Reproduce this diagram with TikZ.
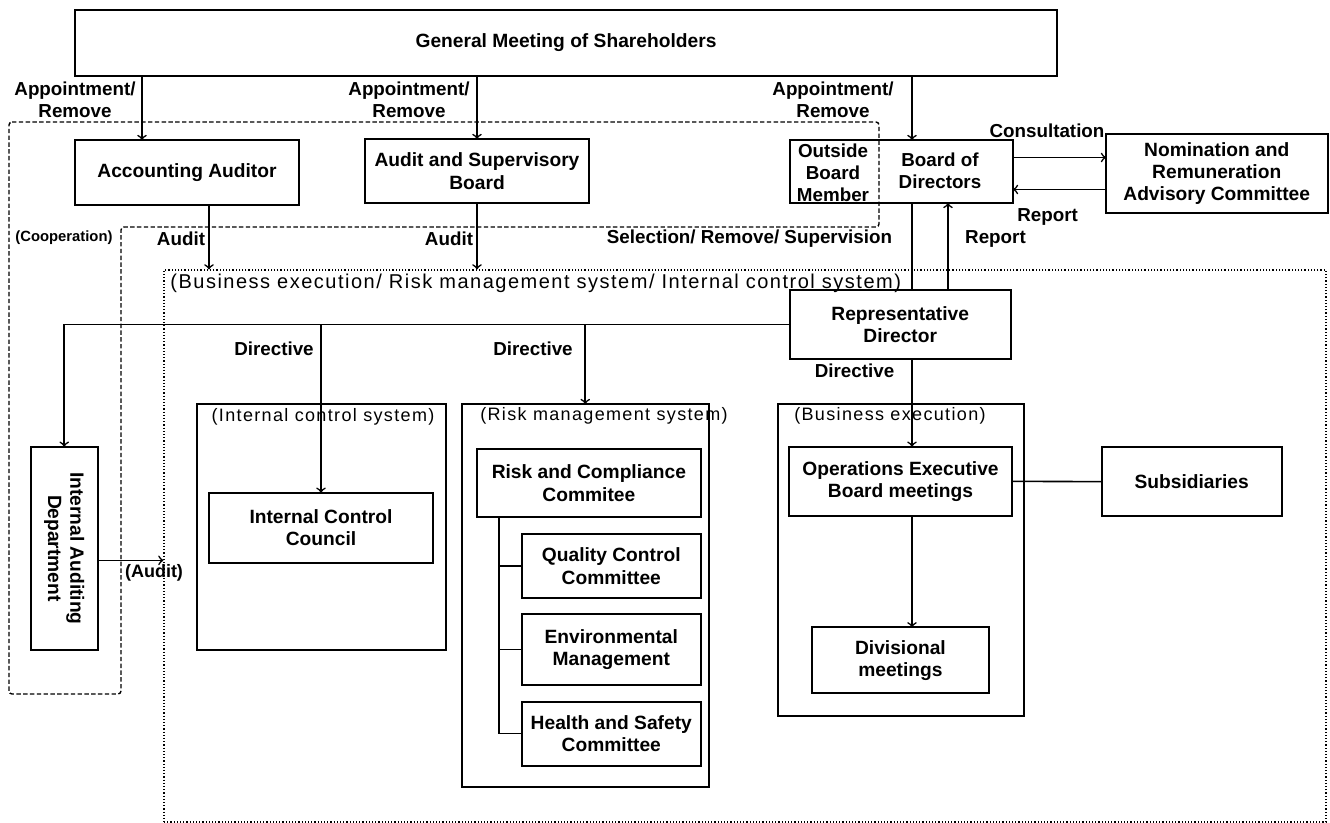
\documentclass[tikz,border=0pt]{standalone}
\usepackage{fontspec}
\setmainfont{Liberation Sans}
\newfontfamily\spacedfont[LetterSpace=7.5]{Liberation Sans}
\usetikzlibrary{positioning}

\begin{document}
\begin{tikzpicture}[
		x=0.5pt, y=-0.5pt,
		box/.style = {
			draw, rectangle, line width=1pt,
			inner sep=0pt, outer sep=0pt, align=center,
			font=\bfseries\fontsize{9.6}{11.2}\selectfont
		},
		lbl/.style = {inner sep=0pt, align=center, font=\bfseries\fontsize{9.4}{11}\selectfont},
		sys/.style = {inner sep=0pt, font=\spacedfont\fontsize{9}{11}\selectfont},
		link/.style = {line width=0.8pt}
		]
		\useasboundingbox (0,0) rectangle (1330,823);
		% frames
		\node [draw, densely dotted, line width=0.6pt, inner sep=0pt, minimum width=581pt, minimum height=276pt] (biz) at (745,546) {};
		\draw[dash pattern=on 2.2pt off 1.2pt, line width=0.7pt, rounded corners=1.5pt]
			(9,122) -- (879,122) -- (879,227) -- (121,227) -- (121,694) -- (9,694) -- cycle;

		% top level
		\node [box, minimum width=491pt, minimum height=33pt] (gm) at (566,43) {General Meeting of Shareholders};
		\node [box, minimum width=112pt, minimum height=32.5pt] (acc) at (187,172.5) {Accounting Auditor};
		\node [box, minimum width=112pt, minimum height=32pt] (asb) at (477,171) {Audit and Supervisory\\Board};
		\node [box, minimum width=111.75pt, minimum height=31.5pt] (bod) at (901.25,171.5) {};
		\node [lbl] (bodout) at (833,172.5) {Outside\\Board\\Member};
		\node [lbl] (bodtxt) at (940,171) {Board of\\Directors};
		\node [box, minimum width=110.75pt, minimum height=39.5pt] (nom) at (1216.75,173.5) {Nomination and\\Remuneration\\Advisory Committee};
		\node [box, minimum width=110.75pt, minimum height=34.5pt] (rep) at (900.25,324.5) {Representative\\Director};

		% systems
		\node [box, minimum width=124.5pt, minimum height=123pt] (icsys) at (321.2,527) {};
		\node [box, minimum width=123.55pt, minimum height=191.5pt] (rmsys) at (585.25,595.5) {};
		\node [box, minimum width=123pt, minimum height=156.25pt] (besys) at (901,560.25) {};
		\node [sys] (icsysttl) at (323,417) {(Internal control system)};
		\node [sys] (rmsysttl) at (604,416) {(Risk management system)};
		\node [sys] (besysttl) at (890,416) {(Business execution)};
		\node [sys, font=\spacedfont\fontsize{10}{12}\selectfont, anchor=west] (bizttl) at (170,283) {(Business execution/ Risk management system/ Internal control system)};

		\node [box, rotate=-90, minimum width=101.65pt, minimum height=33.5pt] (iad) at (64.2,548.35) {Internal Auditing\\Department};
		\node [box, minimum width=112pt, minimum height=35pt] (icc) at (321,527.7) {Internal Control\\Council};
		\node [box, minimum width=112pt, minimum height=34.15pt] (rcc) at (588.85,483.15) {Risk and Compliance\\Commitee};
		\node [box, minimum width=89.55pt, minimum height=31.7pt, below=8.5pt of rcc.south east, anchor=north east] (qcc) {Quality Control\\Committee};
		\node [box, minimum width=89.55pt, minimum height=35.35pt, below=8.3pt of qcc] (env) {Environmental\\Management};
		\node [box, minimum width=89.55pt, minimum height=32pt, below=8.3pt of env] (hsc) {Health and Safety\\Committee};
		\node [box, minimum width=111.5pt, minimum height=34.65pt] (oeb) at (900.5,481.35) {Operations Executive\\Board meetings};
		\node [box, minimum width=88.95pt, minimum height=33pt] (div) at (900.45,660.3) {Divisional\\meetings};
		\node [box, minimum width=90pt, minimum height=34.35pt] (sub) at (1191.7,481.65) {Subsidiaries};

		% connectors
		\coordinate (spine) at (912,0);
		\coordinate (rptx) at (948,0);
		\coordinate (accin) at ([xshift=-22.5pt]acc.north);
		\coordinate (accout) at ([xshift=11pt]acc.south);
		\coordinate (consultout) at ([yshift=7pt]bod.east);
		\coordinate (reportin) at ([yshift=-9pt]bod.east);
		\coordinate (iadout) at ([yshift=-6pt]iad.north);
		\coordinate (trunk) at ([xshift=-44.8pt]rcc.south);
		\draw[link,->] (accin |- gm.south) -- (accin);
		\draw[link,->] (gm.south -| asb.north) -- (asb.north);
		\draw[link,->] (gm.south -| spine) -- (bod.north -| spine);
		\draw[link,->] (consultout) -- (consultout -| nom.west);
		\draw[link,->] (reportin -| nom.west) -- (reportin);
		\draw[link] (bod.south -| spine) -- (rep.north -| spine);
		\draw[link,->] (rep.north -| rptx) -- (bod.south -| rptx);
		\draw[link,->] (accout) -- (accout |- biz.north);
		\draw[link,->] (asb.south) -- (asb.south |- biz.north);
		\draw[link,->] (rep.west) -| (iad.west);
		\draw[link,->] (rep.west -| icc.north) -- (icc.north);
		\draw[link,->] (rep.west -| rmsys.north) -- (rmsys.north);
		\draw[link,->] (iadout) -- (iadout -| biz.west);
		\draw[link,->] (rep.south -| spine) -- (oeb.north -| spine);
		\draw[link,->] (oeb.south -| spine) -- (div.north -| spine);
		\draw[link] (oeb.east) -- (sub.west);
		\draw[link] (trunk) |- (hsc.west);
		\foreach \n in {qcc,env}
			\draw[link] (trunk |- \n.west) -- (\n.west);

		% labels
		\node [lbl] (appacc) at (75,100) {Appointment/\\Remove};
		\node [lbl] (appasb) at (409,100) {Appointment/\\Remove};
		\node [lbl] (appbod) at (833,99.5) {Appointment/\\Remove};
		\node [lbl] (consult) at (1047,131) {Consultation};
		\node [lbl] (rptnom) at (1047.6,217) {Report};
		\node [lbl] (auditacc) at (181,239) {Audit};
		\node [lbl] (auditasb) at (449,239) {Audit};
		\node [lbl, font=\bfseries\fontsize{7.4}{9}\selectfont] (coop) at (64,238) {(Cooperation)};
		\node [lbl] (selrem) at (749.5,239) {Selection/ Remove/ Supervision};
		\node [lbl] (rptrep) at (995.5,239) {Report};
		\node [lbl] (dirics) at (274,349) {Directive};
		\node [lbl] (dirrms) at (533,349) {Directive};
		\node [lbl] (dirbes) at (854.5,371) {Directive};
		\node [lbl, font=\bfseries\fontsize{9}{11}\selectfont] (auditiad) at (154,573) {(Audit)};
	\end{tikzpicture}
\end{document}
